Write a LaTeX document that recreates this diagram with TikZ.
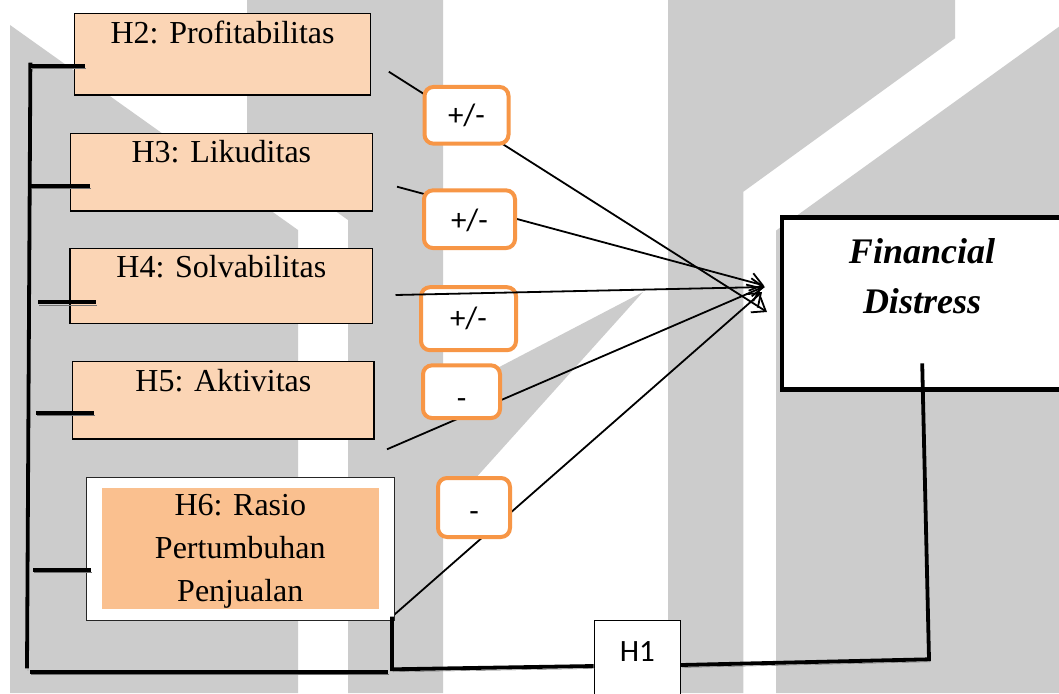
\documentclass[tikz,border=0pt]{standalone}
\usepackage{fontspec}
\setmainfont{Liberation Serif}
\newfontfamily\calib{Carlito}
\usetikzlibrary{arrows.meta}
\pgfdeclarelayer{wmark}
\pgfdeclarelayer{links}
\pgfsetlayers{wmark,links,main}
\definecolor{wmgray}{RGB}{204,204,204}
\definecolor{peach}{RGB}{251,213,181}
\definecolor{peachdark}{RGB}{250,192,143}
\definecolor{accorange}{RGB}{247,150,70}
\newcommand{\rtxt}[2]{\raisebox{#1pt}[0pt][0pt]{#2}}
\begin{document}
\begin{tikzpicture}[x=1pt,y=-1pt,
  hbox/.style={draw=black, line width=1.3pt, fill=peach, inner sep=0pt, font=\fontsize{32}{38}\selectfont},
  signbox/.style={draw=accorange, line width=4pt, rounded corners=9pt, fill=white, inner sep=0pt, font=\calib\fontsize{31}{36}\selectfont},
  link/.style={line width=1.8pt, -{Straight Barb[length=12pt,width=18pt]}},
  bus/.style={line width=3.8pt, preaction={draw=black!55, transform canvas={shift={(1pt,-2.5pt)}}}}]
\useasboundingbox (0,0) rectangle (1059,693);
\begin{pgfonlayer}{wmark}
\fill[white] (0,0) rectangle (1059,693);
\fill[wmgray] (10,25) -- (298,230) -- (298,693) -- (10,693) -- cycle;
\fill[wmgray] (247,0) -- (443,0) -- (443,396.4) -- (643,292) -- (443,514.4) -- (443,693) -- (348,693) -- (348,220) -- (247,148) -- cycle;
\fill[wmgray] (668,0) -- (955,0) -- (955,38.3) -- (743.4,191.7) -- (743.4,693) -- (668,693) -- cycle;
\fill[wmgray] (776,230.6) -- (1059,26.7) -- (1059,693) -- (776,693) -- cycle;
\end{pgfonlayer}

% hypothesis boxes
\node[hbox, minimum width=296.4pt, minimum height=81.7pt] (h2) at (222.6,54.2) {\rtxt{10.9}{H2: Profitabilitas}};
\node[hbox, minimum width=302.2pt, minimum height=77.7pt] (h3) at (221.4,172.2) {\rtxt{9.5}{H3: Likuditas}};
\node[hbox, minimum width=302.5pt, minimum height=75pt] (h4) at (221.3,285.8) {\rtxt{8.5}{H4: Solvabilitas}};
\node[hbox, minimum width=301.3pt, minimum height=77.3pt] (h5) at (223.4,400.4) {\rtxt{8.7}{H5: Aktivitas}};
\node[draw=black!85, line width=0.8pt, fill=white, minimum width=308.5pt, minimum height=142.7pt, inner sep=0pt] (h6) at (240.3,548.7) {};
\node[fill=peachdark, minimum width=276.6pt, minimum height=121pt, inner sep=0pt, font=\fontsize{32}{43}\selectfont] (h6in) at (240.3,548.8)
  {\rtxt{-52.9}{\begin{tabular}[b]{@{}c@{}}H6: Rasio\\Pertumbuhan\\Penjualan\end{tabular}}};

% dependent variable
\node[draw=black, line width=4.5pt, fill=white, minimum width=280pt, minimum height=172.4pt, inner sep=0pt, font=\fontsize{36}{50}\selectfont\bfseries\itshape] (fd) at (922,303.5)
  {\rtxt{-9.8}{\begin{tabular}[b]{@{}c@{}}Financial\\Distress\end{tabular}}};

% H1 box
\node[draw=black, line width=0.8pt, fill=white, minimum width=86.5pt, minimum height=100pt, inner sep=0pt, font=\calib\fontsize{31}{36}\selectfont] (h1) at (637.3,670) {\rtxt{8.3}{H1}};

% sign boxes
\node[signbox, minimum width=84pt, minimum height=56.7pt] (s1) at (466.5,115.3) {\rtxt{-9.7}{+/-}};
\node[signbox, minimum width=91pt, minimum height=57.7pt] (s2) at (469.5,219.2) {\rtxt{-10.8}{+/-}};
\node[signbox, minimum width=95pt, minimum height=63pt] (s3) at (468.5,318.7) {\rtxt{-9.6}{+/-}};
\node[signbox, minimum width=77pt, minimum height=52.7pt] (s4) at (461.5,391.7) {\rtxt{-16.3}{-}};
\node[signbox, minimum width=72pt, minimum height=59pt] (s5) at (474,507.5) {\rtxt{-13.8}{-}};

% connector coordinates
\coordinate (a1) at (388.8,71.7);  \coordinate (t1) at (767,312);
\coordinate (a2) at (397,186.7);   \coordinate (t2) at (764,285.5);
\coordinate (a3) at (395.5,295);   \coordinate (t3) at (765,287);
\coordinate (a4) at (387,449.3);   \coordinate (t4) at (762,287.5);
\coordinate (a5) at (392,616.7);   \coordinate (t5) at (762,292);

\begin{pgfonlayer}{links}
\draw[link] (a1) -- (t1);
\draw[link] (a2) -- (t2);
\draw[link] (a4) -- (t4);
\draw[link] (a5) -- (t5);
\end{pgfonlayer}
\draw[link] (a3) -- (t3);

% bus lines
\coordinate (bt) at (30.4,62.7);
\coordinate (bb) at (27,668.3);
\draw[bus] (bt) -- (bb);
\draw[bus] (30.4,671.7) -- (388,671.7);
\draw[bus] (30,66) -- (84.5,66);
\draw[bus] (31,186) -- (89.6,186);
\draw[bus] (38,302.3) -- (96,302.3);
\draw[bus] (36,412.7) -- (94,412.7);
\draw[bus] (33,570) -- (90.6,570);
\draw[bus] (a5) -- (392,669.3) -- ([yshift=4pt]h1.west);
\draw[bus] ([yshift=5pt]h1.east) -- (929,659.3) -- (922.2,363.3);
\end{tikzpicture}
\end{document}
